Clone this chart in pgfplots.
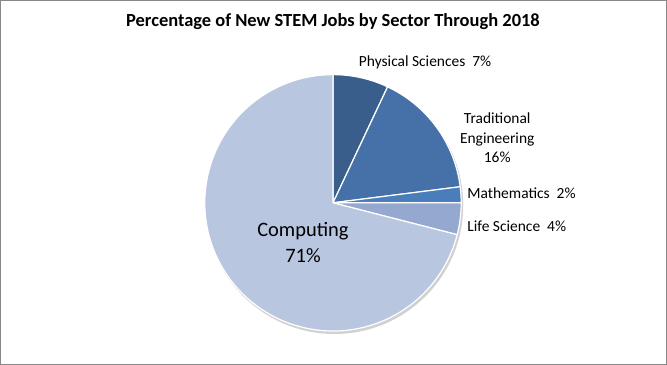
\documentclass[border=0pt]{standalone}
\usepackage{pgfplots}
\pgfplotsset{compat=1.18}
\usepackage{pgfplotstable}
\usepackage{fontspec}
\setmainfont{Carlito}
\definecolor{cPS}{HTML}{3A5E8C}
\definecolor{cTE}{HTML}{4571A8}
\definecolor{cMA}{HTML}{4A7EBB}
\definecolor{cLS}{HTML}{94A8D0}
\definecolor{cCO}{HTML}{B9C6E0}
\definecolor{frame}{HTML}{888888}
% start (cumulative percent), share (percent)
\pgfplotstableread{
name start share
PS 0 7
TE 7 16
MA 23 2
LS 25 4
CO 29 71
}\piedata
\newcommand{\slice}[3]{%
  \fill[#3, draw=white, line width=1.2bp, line join=round]
    (axis cs:332,161) -- ++({90-3.6*#1}:128bp)
    arc[start angle={90-3.6*#1}, end angle={90-3.6*(#1+#2)}, radius=128bp] -- cycle;}
\begin{document}
\begin{tikzpicture}
\begin{axis}[
  x=1bp, y=1bp, xmin=0, xmax=665, ymin=0, ymax=363,
  scale only axis, ticks=none,
  axis line style={frame, line width=1bp},
  clip=false,
]
\fill[black!18] (axis cs:333.5,158.5) circle[radius=128.5bp];
\pgfplotstablegetelem{0}{start}\of\piedata\let\sA\pgfplotsretval
\pgfplotstablegetelem{0}{share}\of\piedata\let\dA\pgfplotsretval
\pgfplotstablegetelem{1}{start}\of\piedata\let\sB\pgfplotsretval
\pgfplotstablegetelem{1}{share}\of\piedata\let\dB\pgfplotsretval
\pgfplotstablegetelem{2}{start}\of\piedata\let\sC\pgfplotsretval
\pgfplotstablegetelem{2}{share}\of\piedata\let\dC\pgfplotsretval
\pgfplotstablegetelem{3}{start}\of\piedata\let\sD\pgfplotsretval
\pgfplotstablegetelem{3}{share}\of\piedata\let\dD\pgfplotsretval
\pgfplotstablegetelem{4}{start}\of\piedata\let\sE\pgfplotsretval
\pgfplotstablegetelem{4}{share}\of\piedata\let\dE\pgfplotsretval
\edef\doslices{%
  \noexpand\slice{\sA}{\dA}{cPS}%
  \noexpand\slice{\sB}{\dB}{cTE}%
  \noexpand\slice{\sC}{\dC}{cMA}%
  \noexpand\slice{\sD}{\dD}{cLS}%
  \noexpand\slice{\sE}{\dE}{cCO}}
\doslices
\node[font=\bfseries\fontsize{18.5}{20}\selectfont] at (axis cs:332,342) {Percentage of New STEM Jobs by Sector Through 2018};
\node[font=\fontsize{15.5}{17}\selectfont] at (axis cs:424,301) {Physical Sciences\ \ 7\%};
\node[font=\fontsize{15.5}{20}\selectfont, align=center] at (axis cs:496,226) {Traditional\\Engineering\\16\%};
\node[font=\fontsize{15.5}{17}\selectfont, anchor=west, inner sep=0pt] at (axis cs:466,171) {Mathematics\ \ 2\%};
\node[font=\fontsize{15.5}{17}\selectfont, anchor=west, inner sep=0pt] at (axis cs:466,138) {Life Science\ \ 4\%};
\node[font=\fontsize{20.5}{26}\selectfont, align=center] at (axis cs:302,121) {Computing\\71\%};
\end{axis}
\end{tikzpicture}
\end{document}
